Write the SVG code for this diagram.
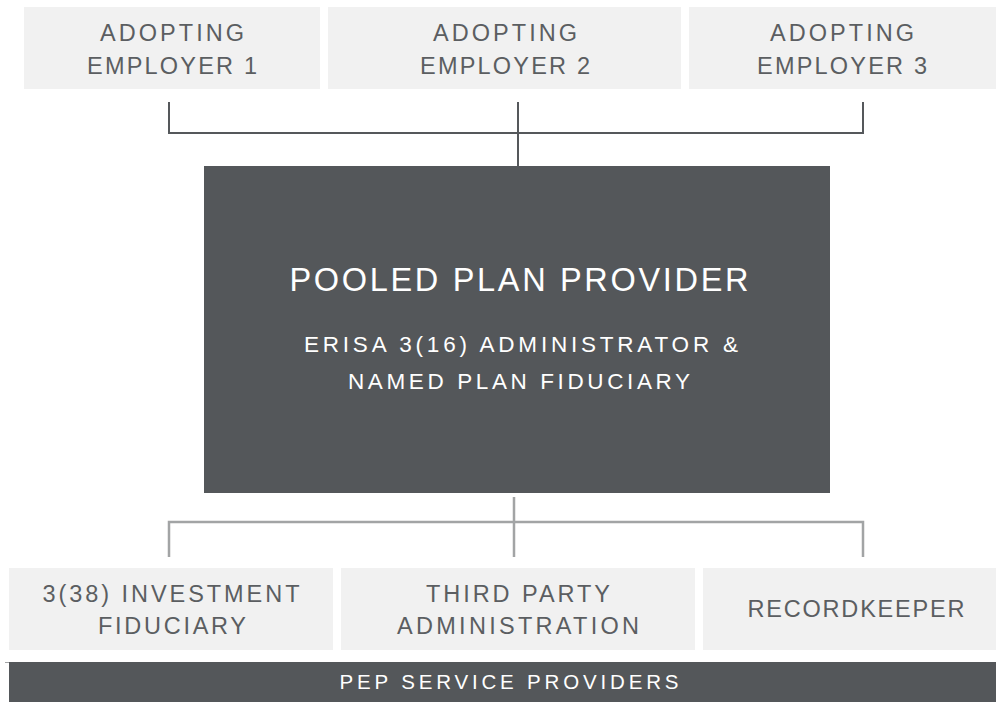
<svg xmlns="http://www.w3.org/2000/svg" width="996" height="702" viewBox="0 0 996 702">
  <style>
    .light { fill: #f1f1f1; }
    .dark { fill: #54575a; }
    .lbl { font-family: "Liberation Sans", Arial, sans-serif; fill: #5b5e61; font-size: 23.5px; text-anchor: middle; }
    .inv { font-family: "Liberation Sans", Arial, sans-serif; fill: #ffffff; text-anchor: middle; }
    .up { fill: none; stroke: #55585b; stroke-width: 2; }
    .down { fill: none; stroke: #a2a4a5; stroke-width: 2.5; }
  </style>
  <rect width="996" height="702" fill="#ffffff"/>

  <!-- connectors -->
  <g id="connectors">
    <path class="up" d="M169,102 V133 H863 V102 M518,102 V166"/>
    <path class="down" d="M169,557 V522 H863 V557 M514,497 V557"/>
  </g>

  <!-- adopting employers -->
  <g id="employer1">
    <rect class="light" x="24" y="7" width="296" height="82"/>
    <text class="lbl" x="172" y="41" textLength="144" lengthAdjust="spacing">ADOPTING</text>
    <text class="lbl" x="172" y="74" textLength="170" lengthAdjust="spacing">EMPLOYER 1</text>
  </g>
  <g id="employer2">
    <rect class="light" x="328" y="7" width="353" height="82"/>
    <text class="lbl" x="505" y="41" textLength="144" lengthAdjust="spacing">ADOPTING</text>
    <text class="lbl" x="505" y="74" textLength="170" lengthAdjust="spacing">EMPLOYER 2</text>
  </g>
  <g id="employer3">
    <rect class="light" x="689" y="7" width="307" height="82"/>
    <text class="lbl" x="842" y="41" textLength="144" lengthAdjust="spacing">ADOPTING</text>
    <text class="lbl" x="842" y="74" textLength="170" lengthAdjust="spacing">EMPLOYER 3</text>
  </g>

  <!-- pooled plan provider -->
  <g id="provider">
    <rect class="dark" x="204" y="166" width="626" height="327"/>
    <text class="inv" x="519" y="291" font-size="32.5" textLength="459" lengthAdjust="spacing">POOLED PLAN PROVIDER</text>
    <text class="inv" x="521" y="352" font-size="22.5" textLength="434" lengthAdjust="spacing">ERISA 3(16) ADMINISTRATOR &amp;</text>
    <text class="inv" x="519" y="389" font-size="22.5" textLength="342" lengthAdjust="spacing">NAMED PLAN FIDUCIARY</text>
  </g>

  <!-- service providers -->
  <g id="investment">
    <rect class="light" x="9" y="568" width="324" height="82"/>
    <text class="lbl" x="171" y="602" textLength="257" lengthAdjust="spacing">3(38) INVESTMENT</text>
    <text class="lbl" x="172" y="634" textLength="148" lengthAdjust="spacing">FIDUCIARY</text>
  </g>
  <g id="tpa">
    <rect class="light" x="341" y="568" width="354" height="82"/>
    <text class="lbl" x="518" y="602" textLength="184" lengthAdjust="spacing">THIRD  PARTY</text>
    <text class="lbl" x="518" y="634" textLength="242" lengthAdjust="spacing">ADMINISTRATION</text>
  </g>
  <g id="recordkeeper">
    <rect class="light" x="703" y="568" width="293" height="82"/>
    <text class="lbl" x="856" y="617" textLength="217" lengthAdjust="spacing">RECORDKEEPER</text>
  </g>

  <!-- footer band -->
  <g id="pep">
    <line x1="5" y1="662.5" x2="9" y2="662.5" stroke="#a2a4a5" stroke-width="1"/>
    <rect class="dark" x="9" y="662" width="987" height="40"/>
    <text class="inv" x="509" y="689" font-size="20.5" textLength="339" lengthAdjust="spacing">PEP SERVICE PROVIDERS</text>
  </g>
</svg>
